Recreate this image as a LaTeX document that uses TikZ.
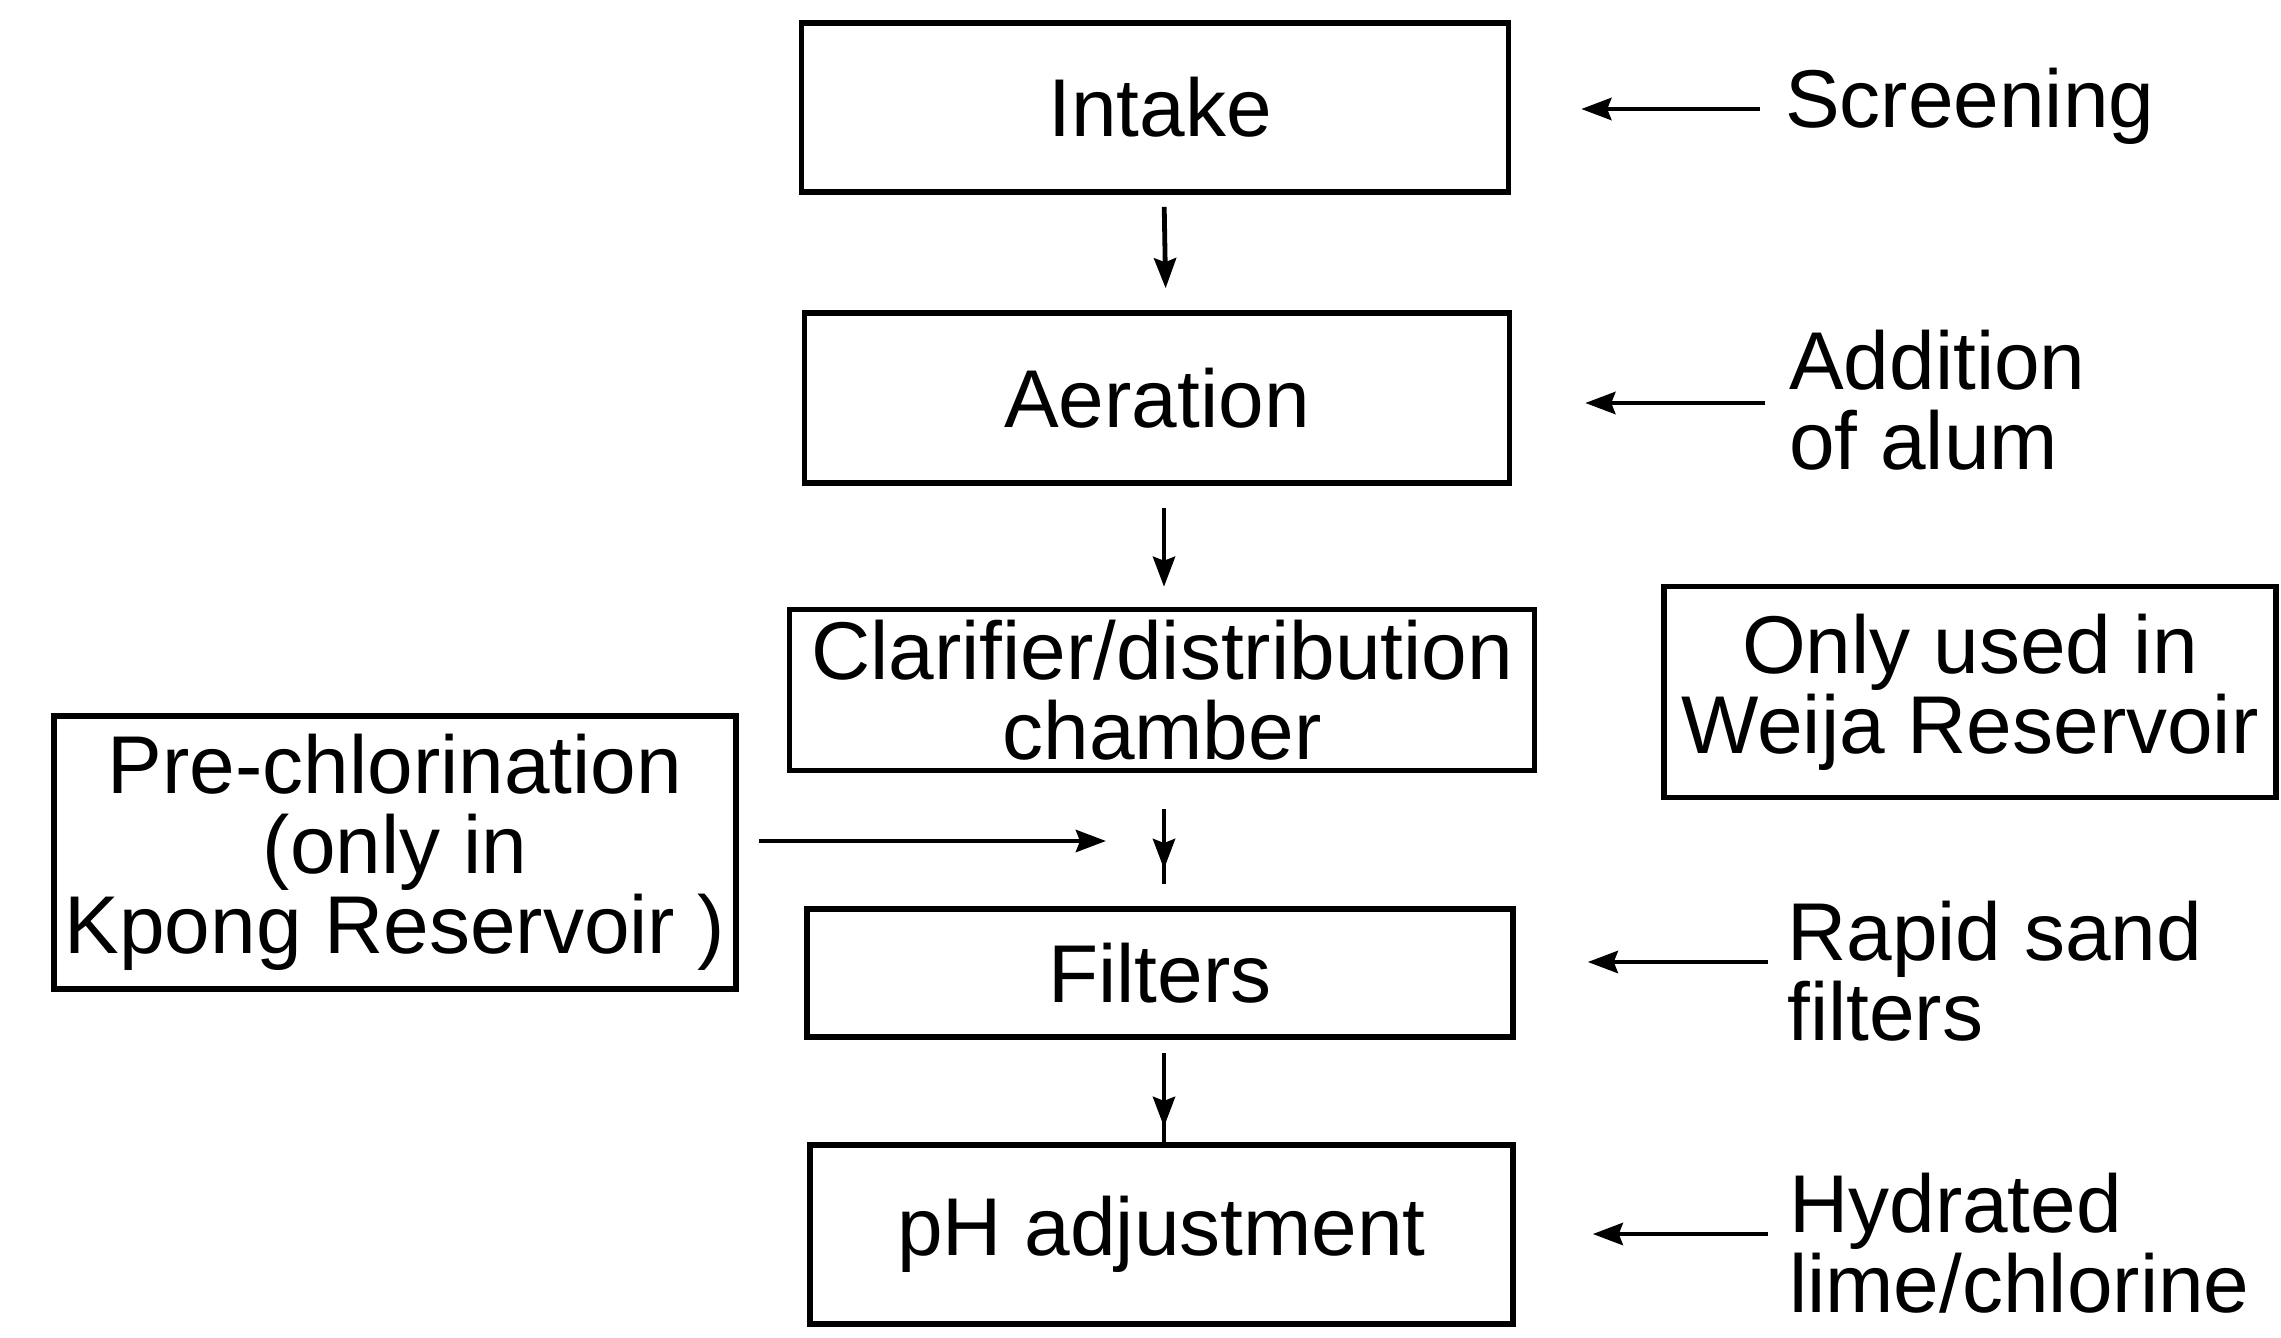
\documentclass[tikz,border=0pt]{standalone}
\usepackage{fontspec}
\setmainfont{Liberation Sans}
\usetikzlibrary{arrows.meta,decorations.markings}
\tikzset{
  procbox/.style={draw=black, line width=5.5pt, inner sep=0pt, align=center, fill=white},
  lbl/.style={inner sep=0pt, align=left, anchor=west},
  arr/.style={line width=4.8pt, -{Stealth[length=30pt,width=22pt,inset=4pt]}},
  midarr/.style={line width=4.8pt, decoration={markings, mark=at position #1 with {\arrow{Stealth[length=30pt,width=22pt,inset=4pt]}}}, postaction=decorate}
}
\begin{document}
\begin{tikzpicture}[x=1pt,y=-1pt, font=\fontsize{82}{80}\selectfont]
\useasboundingbox[fill=white] (0,0) rectangle (2281,1338);
% main boxes
\node[procbox, minimum width=707pt, minimum height=169pt] (intake) at (1155,107.6) {\hspace*{10pt}Intake};
\node[procbox, minimum width=705pt, minimum height=170pt] (aer) at (1157,398) {Aeration};
\node[procbox, minimum width=745pt, minimum height=161pt] (clar) at (1162,690) {Clarifier/distribution\\chamber};
\node[procbox, minimum width=706pt, minimum height=128pt] (filt) at (1160,973) {Filters};
\node[procbox, minimum width=703pt, minimum height=179pt] (ph) at (1161.5,1234.5) {pH adjustment};
\node[procbox, minimum width=682pt, minimum height=273pt] (pre) at (395,852.5) {Pre-chlorination\\(only in\\Kpong Reservoir )};
\node[procbox, minimum width=612pt, minimum height=211pt] (weija) at (1970,692) {Only used in\\Weija Reservoir};
% side labels
\node[lbl] (scr) at (1785,106) {Screening};
\node[lbl] (alum) at (1789,400) {Addition\\of alum};
\node[lbl] (sand) at (1787,971) {Rapid sand\\filters};
\node[lbl] (lime) at (1789,1243) {Hydrated\\lime/chlorine};
% vertical flow
\draw[arr, shorten <=12pt, shorten >=22pt] ([xshift=9pt]intake.south) -- ([xshift=9pt]aer.north);
\draw[arr, shorten <=22pt, shorten >=20pt] ([xshift=7pt]aer.south) -- ([xshift=7pt]aer.south |- clar.north);
\draw[midarr=0.72, shorten <=36pt, shorten >=22pt] ([xshift=2pt]clar.south) -- ([xshift=2pt]clar.south |- filt.north);
\draw[midarr=0.85, shorten <=13pt] ([xshift=4pt]filt.south) -- ([xshift=4pt]filt.south |- ph.north);
% pre-chlorination arrow
\coordinate (pc) at (1106,841);
\draw[arr, shorten <=20pt] (pre.east |- pc) -- (pc);
% side arrows
\draw[arr, shorten <=25pt, shorten >=70pt] ([yshift=-3pt]scr.west) -- ([yshift=-3pt]scr.west -| intake.east);
\draw[arr, shorten <=24pt, shorten >=73pt] ([yshift=-3pt]alum.west) -- ([yshift=-3pt]alum.west -| aer.east);
\draw[arr, shorten <=19pt, shorten >=72pt] ([yshift=9pt]sand.west) -- ([yshift=9pt]sand.west -| filt.east);
\draw[arr, shorten <=21pt, shorten >=77pt] ([yshift=9pt]lime.west) -- ([yshift=9pt]lime.west -| ph.east);
\end{tikzpicture}
\end{document}
